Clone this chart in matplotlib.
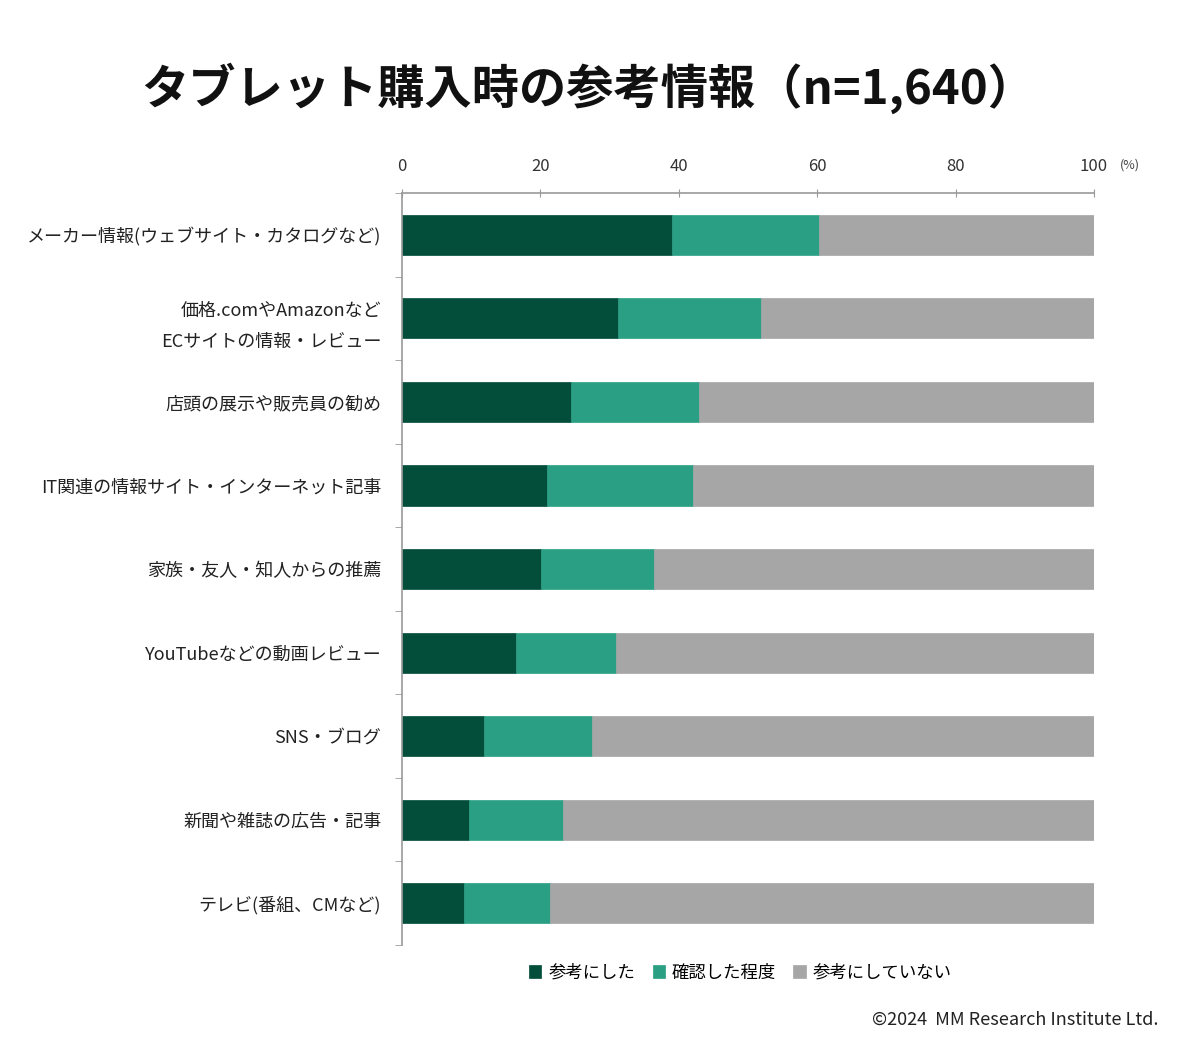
import matplotlib.pyplot as plt
import numpy as np

plt.rcParams['font.family'] = ['Noto Sans CJK JP', 'DejaVu Sans']

# data
categories = [
    'メーカー情報(ウェブサイト・カタログなど)',
    '価格.comやAmazonなど\nECサイトの情報・レビュー',
    '店頭の展示や販売員の勧め',
    'IT関連の情報サイト・インターネット記事',
    '家族・友人・知人からの推薦',
    'YouTubeなどの動画レビュー',
    'SNS・ブログ',
    '新聞や雑誌の広告・記事',
    'テレビ(番組、CMなど)',
]
referred = [39.0, 31.2, 24.4, 20.9, 20.1, 16.5, 11.9, 9.7, 9.0]
checked = [21.2, 20.7, 18.5, 21.2, 16.3, 14.4, 15.6, 13.5, 12.4]
not_ref = [100 - a - b for a, b in zip(referred, checked)]
series_names = ['参考にした', '確認した程度', '参考にしていない']
colors = ['#034d3b', '#2a9f83', '#a6a6a6']
xticks = [0, 20, 40, 60, 80, 100]

fig = plt.figure(figsize=(12, 10.39), dpi=100)
ax = fig.add_axes([0.335, 0.0905, 0.5767, 0.7237])

y = np.arange(len(categories))
left = np.zeros(len(categories))
for vals, col, name in zip([referred, checked, not_ref], colors, series_names):
    ax.barh(y, vals, left=left, height=0.48, color=col, label=name,
            edgecolor=col, linewidth=0.5)
    left = left + np.array(vals)

ax.set_xlim(0, 100)
ax.set_ylim(len(categories) - 0.5, -0.5)
ax.xaxis.tick_top()
ax.set_xticks(xticks)
ax.set_xticklabels([str(t) for t in xticks], fontsize=12, color='#333333')
ax.tick_params(axis='x', direction='inout', length=6, color='#999999', pad=10)

ax.set_yticks(y)
ax.set_yticklabels(categories, fontsize=13, color='#222222', linespacing=1.9)
ax.set_yticks(np.arange(-0.5, len(categories), 1), minor=True)
ax.tick_params(axis='y', which='major', length=0, pad=15)
ax.tick_params(axis='y', which='minor', length=5, color='#999999')

for s in ['right', 'bottom']:
    ax.spines[s].set_visible(False)
for s in ['left', 'top']:
    ax.spines[s].set_color('#999999')
    ax.spines[s].set_linewidth(1.2)

ax.text(1.037, 1.0375, '(%)', transform=ax.transAxes, fontsize=9,
        color='#444444', ha='left', va='center')

fig.text(0.49, 0.915, 'タブレット購入時の参考情報（n=1,640）', ha='center',
         va='center', fontsize=34, fontweight='bold', color='#111111')

fig.legend(loc='center', bbox_to_anchor=(0.617, 0.064), ncol=3, frameon=False,
           fontsize=12.5, handlelength=0.7, handleheight=0.7,
           handletextpad=0.4, columnspacing=1.0)

fig.text(0.965, 0.019, '©2024  MM Research Institute Ltd.', ha='right',
         va='center', fontsize=13, color='#222222')

fig.savefig('out.png', dpi=100, facecolor='white')
